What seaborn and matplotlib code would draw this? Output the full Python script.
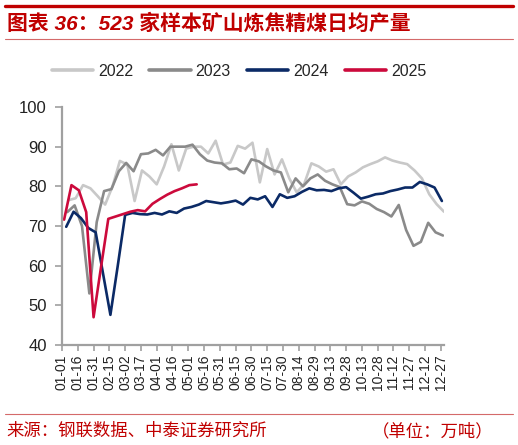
import pandas as pd
import numpy as np
import matplotlib
matplotlib.use("Agg")
import matplotlib.pyplot as plt
import seaborn as sns

# weekly 523-mine coking coal output (10k t/day)
start_dates = {"2022": "2022-01-07", "2023": "2023-01-06", "2024": "2024-01-05", "2025": "2025-01-03"}

v2022 = [76.5, 77.0, 80.3, 79.5, 77.5, 75.4, 80.0, 86.4, 85.5, 76.3,
         84.0, 82.5, 80.5, 85.0, 90.6, 84.0, 89.5, 90.0, 90.0, 88.3,
         91.5, 85.5, 86.0, 90.2, 89.5, 91.0, 81.0, 89.4, 83.0, 86.8,
         82.0, 78.5, 80.5, 85.8, 85.0, 83.7, 84.3, 80.5, 82.5, 83.5,
         84.8, 85.6, 86.3, 87.3, 86.5, 86.0, 85.6, 84.0, 82.0, 78.0,
         75.5, 73.6]
v2023 = [73.5, 75.2, 70.0, 53.0, 71.0, 78.8, 79.3, 83.8, 85.9, 83.8,
         88.1, 88.3, 89.2, 87.8, 90.0, 90.0, 90.0, 90.5, 88.1, 86.5,
         86.0, 85.8, 84.3, 84.5, 83.3, 86.8, 86.3, 85.0, 84.0, 83.5,
         78.5, 82.0, 80.0, 82.0, 83.0, 81.4, 80.5, 79.8, 75.5, 75.2,
         76.2, 75.6, 74.3, 73.5, 72.4, 75.3, 69.0, 65.0, 66.0, 70.8,
         68.4, 67.6]
v2024 = [69.8, 73.6, 72.0, 69.5, 68.4, 58.0, 47.6, 60.0, 72.8, 73.3,
         73.0, 72.9, 73.3, 72.9, 73.7, 73.3, 74.4, 74.8, 75.4, 76.3,
         76.0, 75.7, 76.0, 76.4, 75.4, 77.1, 76.7, 77.5, 74.8, 78.0,
         77.1, 77.5, 78.6, 79.5, 79.0, 79.1, 78.8, 79.5, 79.8, 78.4,
         76.9, 77.4, 78.0, 78.2, 78.8, 79.2, 79.7, 79.7, 81.1, 80.5,
         79.7, 76.3]
v2025 = [71.6, 80.3, 79.0, 73.5, 47.0, 59.5, 71.8, 72.4, 73.0, 73.6,
         74.0, 73.7, 75.6, 76.8, 77.9, 78.8, 79.5, 80.3, 80.5]

years = ["2022", "2023", "2024", "2025"]
colors = {"2022": "#c8c8c8", "2023": "#8a8a8a", "2024": "#0b2a66", "2025": "#cc0a3c"}
series = {"2022": v2022, "2023": v2023, "2024": v2024, "2025": v2025}

frames = []
for y in years:
    d = pd.date_range(start_dates[y], periods=len(series[y]), freq="7D")
    frames.append(pd.DataFrame({
        "day": (d - pd.Timestamp(y + "-01-01")).days,
        "value": series[y],
        "year": y,
    }))
df = pd.concat(frames, ignore_index=True)

tick_days = list(range(0, 361, 15))
tick_labels = [(pd.Timestamp("2023-01-01") + pd.Timedelta(days=t)).strftime("%m-%d") for t in tick_days]

sns.set_theme(style="white")
plt.rcParams["font.family"] = ["Liberation Sans", "Noto Sans CJK SC", "DejaVu Sans"]

fig = plt.figure(figsize=(5.18, 4.45), dpi=100)
ax = fig.add_axes([62 / 518, 1 - 345 / 445, (444 - 62) / 518, (345 - 107) / 445])

sns.lineplot(data=df, x="day", y="value", hue="year", palette=colors,
             hue_order=years, linewidth=1.9, legend=False, ax=ax,
             estimator=None, sort=False)

ax.set_xlim(0, 363)
ax.set_ylim(40, 100)
ax.set_yticks(range(40, 101, 10))
ax.set_xticks(tick_days)
ax.set_xticklabels(tick_labels, rotation=90, fontsize=10, color="#222222")
ax.tick_params(axis="y", labelsize=12, colors="#222222", length=5, width=1.2,
               direction="out", pad=6, left=True, color="#a0a0a0")
ax.tick_params(axis="x", length=4, width=1.2, direction="out", pad=3,
               bottom=True, color="#a0a0a0")
ax.set_xlabel("")
ax.set_ylabel("")
for s in ["top", "right"]:
    ax.spines[s].set_visible(False)
for s in ["left", "bottom"]:
    ax.spines[s].set_color("#a0a0a0")
    ax.spines[s].set_linewidth(1.6)

# legend above the plot
handles = [plt.Line2D([], [], color=colors[y], linewidth=2.6) for y in years]
fig.legend(handles, years, loc="center", bbox_to_anchor=(239 / 518, 1 - 71 / 445),
           ncol=4, frameon=False, fontsize=11.5, handlelength=2.6,
           handletextpad=0.3, columnspacing=1.0)

# header / footer decoration
red = "#c00000"
fig.add_artist(plt.Line2D([5 / 518, 513 / 518], [1 - 5.5 / 445] * 2, color=red, linewidth=2.4))
fig.add_artist(plt.Line2D([5 / 518, 513 / 518], [1 - 39 / 445] * 2, color="#d46a6a", linewidth=0.8))
fig.add_artist(plt.Line2D([5 / 518, 513 / 518], [1 - 414 / 445] * 2, color="#d46a6a", linewidth=0.8))

fig.text(7 / 518, 1 - 24 / 445, "图表 36：523 家样本矿山炼焦精煤日均产量", color=red,
         fontsize=15, fontweight="bold", style="italic", va="center", ha="left")
fig.text(6 / 518, 1 - 431 / 445, "来源：钢联数据、中泰证券研究所", color=red,
         fontsize=12.5, va="center", ha="left", fontweight="light",
         family=["Noto Sans CJK SC", "DejaVu Sans"])
fig.text(494 / 518, 1 - 431 / 445, "（单位：万吨）", color=red,
         fontsize=12.5, va="center", ha="right", fontweight="light",
         family=["Noto Sans CJK SC", "DejaVu Sans"])

fig.savefig("out.png", dpi=100)
